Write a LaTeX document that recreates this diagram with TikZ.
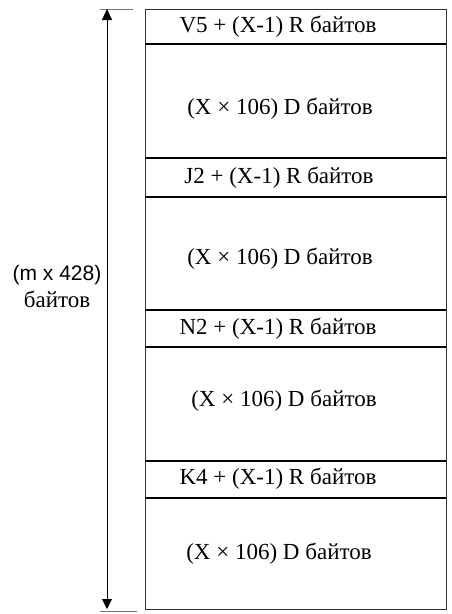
\documentclass[tikz,border=0pt]{standalone}
\usepackage{fontspec}
\setmainfont{Liberation Serif}
\setsansfont{Liberation Sans}
\usetikzlibrary{arrows.meta}
\begin{document}
\begin{tikzpicture}[x=1pt,y=-1pt]
        \tikzset{lbl/.style={font=\fontsize{23}{23}\selectfont, inner sep=0pt},
                 sep/.style={line width=1.6pt},
                 ext/.style={black!55, line width=0.9pt}}
        \useasboundingbox (0,0) rectangle (451,614);

        \draw [line width=0.8pt, black!80] (145,9) rectangle (446,609);
        \foreach \y in {44,158,197,310,347,461,498}
            \draw [sep] (145,\y) -- (446,\y);

        \node [lbl] (v5) at (278,27) {V5 + (X-1) R байтов};
        \node [lbl] (d1) at (280,109) {(X × 106) D байтов};
        \node [lbl] (j2) at (279,178) {J2 + (X-1) R байтов};
        \node [lbl] (d2) at (280,259) {(X × 106) D байтов};
        \node [lbl] (n2) at (278,329) {N2 + (X-1) R байтов};
        \node [lbl] (d3) at (284,401) {(X × 106) D байтов};
        \node [lbl] (k4) at (278,479) {K4 + (X-1) R байтов};
        \node [lbl] (d4) at (279,554) {(X × 106) D байтов};

        \node [inner sep=0pt, font=\sffamily\fontsize{21}{21}\selectfont] (len) at (57,275) {(m x 428)};
        \node [lbl] (unit) at (57,299) {байтов};

        \coordinate (top) at (107,9);
        \coordinate (bot) at (107,609);
        \draw [ext] (100,9) -- (133,9);
        \draw [ext] (100,611) -- (137,611);
        \draw [line width=0.8pt, {Triangle[width=10pt,length=11pt]}-{Triangle[width=10pt,length=10pt]}] (top) -- (bot);
\end{tikzpicture}
\end{document}
